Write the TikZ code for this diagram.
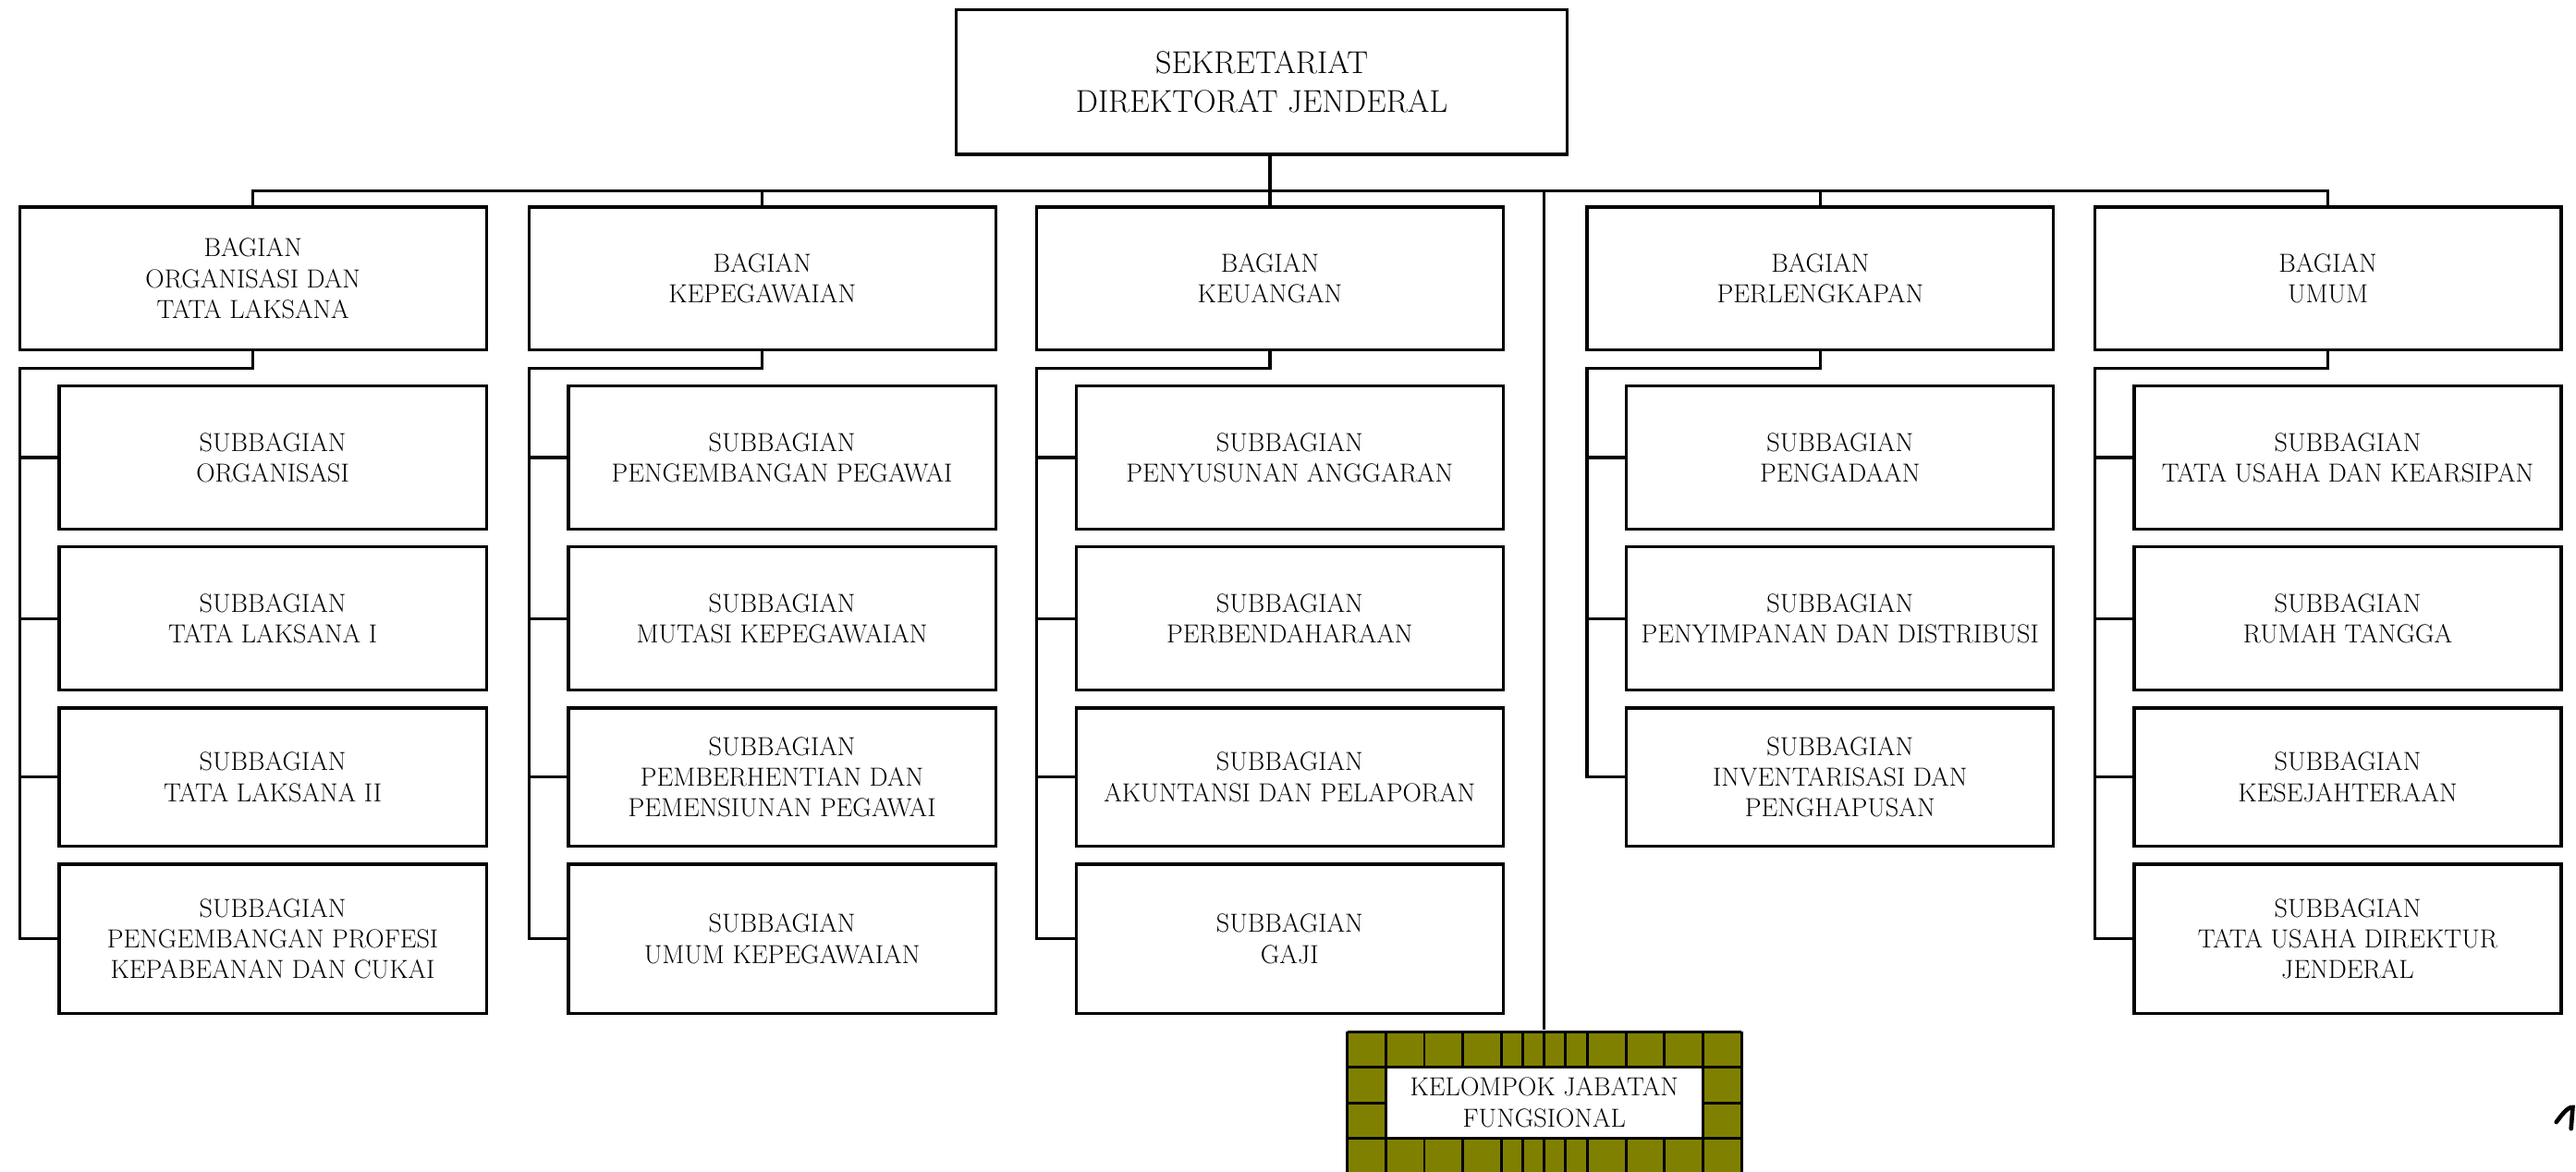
\documentclass[tikz,border=0pt]{standalone}
\definecolor{olivegrid}{RGB}{128,128,0}
\begin{document}
\begin{tikzpicture}[x=1pt,y=-1pt,line width=1.8pt,
  conn/.style={line width=1.8pt,line cap=rect},
  box/.style={draw,line width=1.8pt,align=center,inner sep=0pt,fill=white,
    font=\fontsize{15.9}{18.7}\selectfont},
  topbox/.style={box,minimum width=372pt,minimum height=88pt,
    font=\fontsize{19.2}{24}\selectfont},
  bag/.style={box,minimum width=284pt,minimum height=87pt},
  subA/.style={box,minimum width=260pt,minimum height=87pt},
  subC/.style={box,minimum width=260pt,minimum height=84pt},
  subD/.style={box,minimum width=260pt,minimum height=91pt},
  gridline/.style={line width=1.6pt}]
\useasboundingbox (0,0) rectangle (1568,713);
\clip (0,0) rectangle (1568,713);

% top
\node[topbox] (top) at (768,50) {SEKRETARIAT\\DIREKTORAT JENDERAL};

% bagian
\node[bag] (b1) at (154,169.5) {BAGIAN\\ORGANISASI DAN\\TATA LAKSANA};
\node[bag] (b2) at (464,169.5) {BAGIAN\\KEPEGAWAIAN};
\node[bag] (b3) at (773,169.5) {BAGIAN\\KEUANGAN};
\node[bag] (b4) at (1108,169.5) {BAGIAN\\PERLENGKAPAN};
\node[bag] (b5) at (1417,169.5) {BAGIAN\\UMUM};

% subbagian column 1
\node[subA] (s11) at (166,278.5) {SUBBAGIAN\\ORGANISASI};
\node[subA] (s12) at (166,376.5) {SUBBAGIAN\\TATA LAKSANA I};
\node[subC] (s13) at (166,473) {SUBBAGIAN\\TATA LAKSANA II};
\node[subD] (s14) at (166,571.5) {SUBBAGIAN\\PENGEMBANGAN PROFESI\\KEPABEANAN DAN CUKAI};
% column 2
\node[subA] (s21) at (476,278.5) {SUBBAGIAN\\PENGEMBANGAN PEGAWAI};
\node[subA] (s22) at (476,376.5) {SUBBAGIAN\\MUTASI KEPEGAWAIAN};
\node[subC] (s23) at (476,473) {SUBBAGIAN\\PEMBERHENTIAN DAN\\PEMENSIUNAN PEGAWAI};
\node[subD] (s24) at (476,571.5) {SUBBAGIAN\\UMUM KEPEGAWAIAN};
% column 3
\node[subA] (s31) at (785,278.5) {SUBBAGIAN\\PENYUSUNAN ANGGARAN};
\node[subA] (s32) at (785,376.5) {SUBBAGIAN\\PERBENDAHARAAN};
\node[subC] (s33) at (785,473) {SUBBAGIAN\\AKUNTANSI DAN PELAPORAN};
\node[subD] (s34) at (785,571.5) {SUBBAGIAN\\GAJI};
% column 4
\node[subA] (s41) at (1120,278.5) {SUBBAGIAN\\PENGADAAN};
\node[subA] (s42) at (1120,376.5) {SUBBAGIAN\\PENYIMPANAN DAN DISTRIBUSI};
\node[subC] (s43) at (1120,473) {SUBBAGIAN\\INVENTARISASI DAN\\PENGHAPUSAN};
% column 5
\node[subA] (s51) at (1429,278.5) {SUBBAGIAN\\TATA USAHA DAN KEARSIPAN};
\node[subA] (s52) at (1429,376.5) {SUBBAGIAN\\RUMAH TANGGA};
\node[subC] (s53) at (1429,473) {SUBBAGIAN\\KESEJAHTERAAN};
\node[subD] (s54) at (1429,571.5) {SUBBAGIAN\\TATA USAHA DIREKTUR\\JENDERAL};

% bus
\coordinate (bus) at (0,116);
\draw[conn] (b3.north |- top.south) -- (b3.north);
\draw[conn] (b1.north) -- (b1.north |- bus) -- (b5.north |- bus) -- (b5.north);
\draw[conn] (b2.north |- bus) -- (b2.north);
\draw[conn] (b4.north |- bus) -- (b4.north);

% kelompok jabatan fungsional
\fill[olivegrid] (820,628) rectangle (1060,720);
\fill[white] (843.5,649.5) rectangle (1036.5,693);
\begin{scope}[gridline]
  \draw (820,628) -- (1060,628);
  \draw (820,649.5) -- (1060,649.5);
  \draw (820,693) -- (1060,693);
  \draw (820,671.5) -- (843.5,671.5);
  \draw (1036.5,671.5) -- (1060,671.5);
  \foreach \x in {820,843.5,1036.5,1060} \draw (\x,628) -- (\x,720);
  \foreach \x in {867,890.5,914,927,940,953,966.2,989.7,1013.1}
    {\draw (\x,628) -- (\x,649.5); \draw (\x,693) -- (\x,720);}
\end{scope}
\node[align=center,inner sep=0pt,minimum width=240pt,minimum height=88pt,
  font=\fontsize{15.9}{18.7}\selectfont] (kel) at (940,671) {KELOMPOK JABATAN\\FUNGSIONAL};
\draw[conn] (kel.north |- bus) -- (kel.north);

% column connectors
\coordinate (t1) at (12,224);
\coordinate (t2) at (322,224);
\coordinate (t3) at (631,224);
\coordinate (t4) at (966,224);
\coordinate (t5) at (1275,224);
\draw[conn] (b1.south) |- (t1) -- (t1 |- s14.west);
\draw[conn] (b2.south) |- (t2) -- (t2 |- s24.west);
\draw[conn] (b3.south) |- (t3) -- (t3 |- s34.west);
\draw[conn] (b4.south) |- (t4) -- (t4 |- s43.west);
\draw[conn] (b5.south) |- (t5) -- (t5 |- s54.west);
\foreach \c in {1,2,3,5} {
  \foreach \r in {1,2,3,4} {
    \draw[conn] (t\c |- s\c\r.west) -- (s\c\r.west);
  }
}
\foreach \r in {1,2,3} {
  \draw[conn] (t4 |- s4\r.west) -- (s4\r.west);
}

% stray mark at the right edge
\draw[line width=2.6pt,line cap=round] (1556,683) .. controls (1559,679) and (1563,673.5) .. (1566,674) -- (1565,687);
\end{tikzpicture}
\end{document}
